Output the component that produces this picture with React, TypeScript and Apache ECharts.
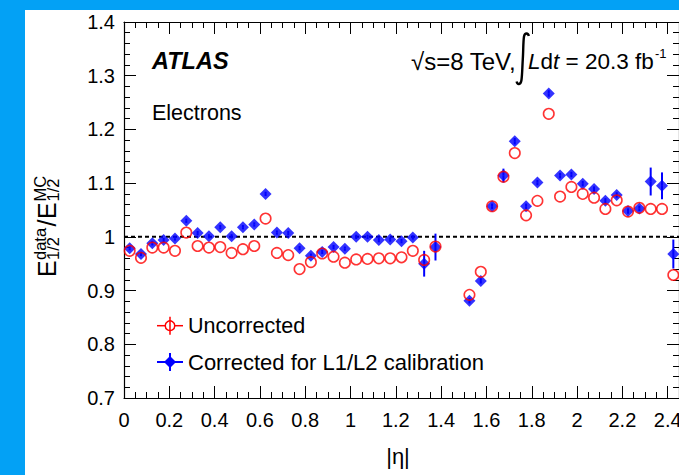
import React, { useEffect, useRef } from "react";
import * as echarts from "echarts";

// |eta| bin centres
const etaCenters = [
  0.025, 0.075, 0.125, 0.175, 0.225, 0.275, 0.325, 0.375, 0.425, 0.475,
  0.525, 0.575, 0.625, 0.675, 0.725, 0.775, 0.825, 0.875, 0.925, 0.975,
  1.025, 1.075, 1.125, 1.175, 1.225, 1.275, 1.325, 1.375,
  1.525, 1.575, 1.625, 1.675, 1.725, 1.775, 1.825, 1.875, 1.925, 1.975,
  2.025, 2.075, 2.125, 2.175, 2.225, 2.275, 2.325, 2.375, 2.425,
];

// Corrected for L1/L2 calibration (blue diamonds)
const correctedValues = [
  0.979, 0.968, 0.988, 0.994, 0.997, 1.030, 1.007, 1.001, 1.018, 1.001,
  1.018, 1.023, 1.080, 1.008, 1.007, 0.979, 0.965, 0.972, 0.981, 0.978,
  1.000, 1.000, 0.994, 0.995, 0.992, 0.999, 0.950, 0.981,
  0.881, 0.918, 1.057, 1.114, 1.178, 1.057, 1.101, 1.267, 1.114, 1.116,
  1.099, 1.089, 1.067, 1.078, 1.048, 1.053, 1.103, 1.095, 0.968,
];
const correctedErrors = [
  0.004, 0.004, 0.004, 0.004, 0.004, 0.004, 0.004, 0.004, 0.004, 0.004,
  0.004, 0.004, 0.004, 0.004, 0.004, 0.004, 0.004, 0.004, 0.004, 0.004,
  0.004, 0.004, 0.004, 0.004, 0.004, 0.004, 0.024, 0.025,
  0.005, 0.005, 0.005, 0.013, 0.006, 0.005, 0.005, 0.006, 0.005, 0.005,
  0.005, 0.005, 0.005, 0.005, 0.005, 0.005, 0.026, 0.025, 0.027,
];

// Uncorrected (red open circles)
const uncorrectedValues = [
  0.974, 0.961, 0.980, 0.980, 0.974, 1.008, 0.983, 0.980, 0.981, 0.970,
  0.977, 0.983, 1.034, 0.970, 0.966, 0.940, 0.953, 0.969, 0.963, 0.952,
  0.958, 0.959, 0.960, 0.960, 0.962, 0.974, 0.957, 0.982,
  0.892, 0.935, 1.057, 1.112, 1.156, 1.040, 1.067, 1.229, 1.075, 1.093,
  1.080, 1.073, 1.052, 1.068, 1.047, 1.054, 1.052, 1.052, 0.929,
];
const uncorrectedErrors = [
  0.004, 0.004, 0.004, 0.004, 0.004, 0.004, 0.004, 0.004, 0.004, 0.004,
  0.004, 0.004, 0.004, 0.004, 0.004, 0.004, 0.004, 0.004, 0.004, 0.004,
  0.004, 0.004, 0.004, 0.004, 0.004, 0.004, 0.004, 0.004,
  0.004, 0.004, 0.004, 0.004, 0.004, 0.004, 0.004, 0.004, 0.004, 0.004,
  0.004, 0.004, 0.004, 0.004, 0.004, 0.004, 0.004, 0.004, 0.004,
];

const referenceLine = [1, 1];
const xRange = [0, 2.45];
const yRange = [0.7, 1.4];

const FONT = "'Liberation Sans', Arial, Helvetica, sans-serif";
const INTEGRAL_PATH =
  "M 13.8 4 C 13.2 0.6 9.8 0.4 9 4.5 C 8.2 9 8.3 20 7.8 27 C 7.3 35 7.2 44 6.4 48.5 C 5.6 53 2.4 53 1.6 49.6";

// error bars drawn only outside the marker (as ROOT does)
function errorBarSeries(data: number[][], color: string, width: number, gap: number, z: number) {
  return {
    type: "custom",
    xAxisIndex: 0,
    yAxisIndex: 0,
    z,
    silent: true,
    data,
    renderItem: (_params: any, api: any) => {
      const x = api.value(0);
      const y = api.value(1);
      const e = api.value(2);
      const c = api.coord([x, y]);
      const top = api.coord([x, y + e])[1];
      const bot = api.coord([x, y - e])[1];
      const style = { stroke: color, lineWidth: width };
      const children: any[] = [];
      if (c[1] - top > gap) {
        children.push({ type: "line", shape: { x1: c[0], y1: top, x2: c[0], y2: c[1] - gap }, style });
      }
      if (bot - c[1] > gap) {
        children.push({ type: "line", shape: { x1: c[0], y1: c[1] + gap, x2: c[0], y2: bot }, style });
      }
      return { type: "group", children };
    },
  };
}

function txt(x: number, y: number, text: string, font: string, align = "left", extra: any = {}) {
  return {
    type: "text",
    x,
    y,
    z: 20,
    style: {
      text,
      font,
      fill: "#000",
      align,
      textAlign: align,
      verticalAlign: "middle",
      textVerticalAlign: "middle",
      ...extra,
    },
  };
}

export default function App() {
  const ref = useRef<HTMLDivElement>(null);

  useEffect(() => {
    if (!ref.current) return;
    echarts.graphic.registerShape("integralSign", echarts.graphic.extendPath(INTEGRAL_PATH, {}) as any);
    const chart = echarts.init(ref.current, undefined, { renderer: "svg" });

    const blueData = etaCenters.map((x, i) => [x, correctedValues[i], correctedErrors[i]]);
    const redData = etaCenters.map((x, i) => [x, uncorrectedValues[i], uncorrectedErrors[i]]);

    const mkX = (position: string, interval: number, len: number, line: boolean, labels: boolean) => ({
      type: "value",
      min: xRange[0],
      max: xRange[1],
      interval,
      position,
      splitLine: { show: false },
      axisLine: { show: line, onZero: false, lineStyle: { color: "#000", width: 1.2 } },
      axisTick: { show: true, inside: true, length: len, lineStyle: { color: "#000", width: 1 } },
      axisLabel: {
        show: labels,
        margin: 12,
        fontSize: 20,
        fontFamily: FONT,
        color: "#000",
        showMaxLabel: false,
      },
    });
    const mkY = (position: string, interval: number, len: number, line: boolean, labels: boolean) => ({
      type: "value",
      min: yRange[0],
      max: yRange[1],
      interval,
      position,
      splitLine: { show: false },
      axisLine: { show: line, onZero: false, lineStyle: { color: "#000", width: 1.2 } },
      axisTick: { show: true, inside: true, length: len, lineStyle: { color: "#000", width: 1 } },
      axisLabel: {
        show: labels,
        margin: 9,
        fontSize: 20,
        fontFamily: FONT,
        color: "#000",
      },
    });

    const legendRedY = 315.7;
    const legendBlueY = 352;
    const legendX = 145;

    const option: any = {
      animation: false,
      backgroundColor: "#fff",
      grid: { left: 99, top: 12, width: 555, height: 376, containLabel: false },
      xAxis: [
        mkX("bottom", 0.2, 12, true, true),
        mkX("bottom", 0.05, 6, false, false),
        mkX("top", 0.2, 12, true, false),
        mkX("top", 0.05, 6, false, false),
      ],
      yAxis: [
        mkY("left", 0.1, 12, true, true),
        mkY("left", 0.02, 6, false, false),
        mkY("right", 0.1, 12, true, false),
        mkY("right", 0.02, 6, false, false),
      ],
      series: [
        {
          type: "line",
          xAxisIndex: 0,
          yAxisIndex: 0,
          z: 1,
          silent: true,
          symbol: "none",
          data: [
            [xRange[0], referenceLine[0]],
            [xRange[1], referenceLine[1]],
          ],
          lineStyle: { color: "#000", width: 2, type: [4, 3] },
        },
        errorBarSeries(redData, "#ff0000", 1.5, 5.2, 2),
        errorBarSeries(blueData, "#0000ff", 2, 0, 3),
        {
          type: "scatter",
          name: "Corrected for L1/L2 calibration",
          xAxisIndex: 0,
          yAxisIndex: 0,
          z: 4,
          symbol: "diamond",
          symbolSize: [12, 12],
          data: blueData.map((d) => [d[0], d[1]]),
          itemStyle: { color: "#0000ff" },
        },
        {
          type: "scatter",
          name: "Uncorrected",
          xAxisIndex: 0,
          yAxisIndex: 0,
          z: 5,
          symbol: "circle",
          symbolSize: 10.5,
          data: redData.map((d) => [d[0], d[1]]),
          itemStyle: { color: "rgba(0,0,0,0)", borderColor: "#ff0000", borderWidth: 1.6 },
        },
      ],
      graphic: [
        txt(127, 50.5, "ATLAS", `italic bold 23.5px ${FONT}`),
        txt(127, 103, "Electrons", `21.5px ${FONT}`),
        txt(386, 51, "√s=8 TeV,", `24px ${FONT}`),
        {
          type: "integralSign",
          x: 490,
          y: 22,
          z: 20,
          style: { stroke: "#000", fill: "none", lineWidth: 2.4 },
        },
        {
          type: "text",
          x: 503,
          y: 51,
          z: 20,
          style: {
            text: "{i|L}d{i|t} = 20.3 fb",
            font: `22.5px ${FONT}`,
            fill: "#000",
            align: "left",
            textAlign: "left",
            verticalAlign: "middle",
            textVerticalAlign: "middle",
            rich: {
              i: { fontStyle: "italic", fontSize: 22.5, fontFamily: FONT, fill: "#000" },
            },
          },
        },
        txt(630, 43, "-1", `13px ${FONT}`),
        txt(373, 446, "|η|", `22px ${FONT}`, "center"),
        // y-axis title
        {
          type: "group",
          x: 31,
          y: 214,
          rotation: Math.PI / 2,
          z: 20,
          children: [
            txt(-53, -9, "E", `25px ${FONT}`),
            txt(-36, -16.3, "data", `16.5px ${FONT}`),
            txt(-36, -2.6, "1/2", `16.5px ${FONT}`),
            txt(-2.5, -9, "/", `25px ${FONT}`),
            txt(5, -9, "E", `25px ${FONT}`),
            txt(22.5, -16.3, "MC", `16.5px ${FONT}`),
            txt(22.5, -2.6, "1/2", `16.5px ${FONT}`),
          ],
        },
        // legend: uncorrected
        {
          type: "line",
          z: 20,
          shape: { x1: legendX - 13, y1: legendRedY, x2: legendX - 5, y2: legendRedY },
          style: { stroke: "#ff0000", lineWidth: 1.5 },
        },
        {
          type: "line",
          z: 20,
          shape: { x1: legendX + 5, y1: legendRedY, x2: legendX + 13, y2: legendRedY },
          style: { stroke: "#ff0000", lineWidth: 1.5 },
        },
        {
          type: "line",
          z: 20,
          shape: { x1: legendX, y1: legendRedY - 9, x2: legendX, y2: legendRedY + 9 },
          style: { stroke: "#ff0000", lineWidth: 1.5 },
        },
        {
          type: "circle",
          z: 21,
          shape: { cx: legendX, cy: legendRedY, r: 4.8 },
          style: { fill: "rgba(0,0,0,0)", stroke: "#ff0000", lineWidth: 1.5 },
        },
        txt(163, legendRedY, "Uncorrected", `21.5px ${FONT}`),
        // legend: corrected
        {
          type: "line",
          z: 20,
          shape: { x1: legendX - 13, y1: legendBlueY, x2: legendX + 13, y2: legendBlueY },
          style: { stroke: "#0000ff", lineWidth: 2 },
        },
        {
          type: "line",
          z: 20,
          shape: { x1: legendX, y1: legendBlueY - 9, x2: legendX, y2: legendBlueY + 9 },
          style: { stroke: "#0000ff", lineWidth: 2 },
        },
        {
          type: "polygon",
          z: 21,
          shape: {
            points: [
              [legendX, legendBlueY - 6],
              [legendX + 6, legendBlueY],
              [legendX, legendBlueY + 6],
              [legendX - 6, legendBlueY],
            ],
          },
          style: { fill: "#0000ff" },
        },
        txt(163, legendBlueY, "Corrected for L1/L2 calibration", `22px ${FONT}`),
      ],
    };

    chart.setOption(option);
    return () => chart.dispose();
  }, []);

  return (
    <div
      style={{
        position: "absolute",
        left: 0,
        top: 0,
        width: 679,
        height: 475,
        background: "#03a1f5",
        overflow: "hidden",
      }}
    >
      <div
        ref={ref}
        style={{ position: "absolute", left: 25, top: 10, width: 660, height: 465, background: "#fff" }}
      />
    </div>
  );
}
